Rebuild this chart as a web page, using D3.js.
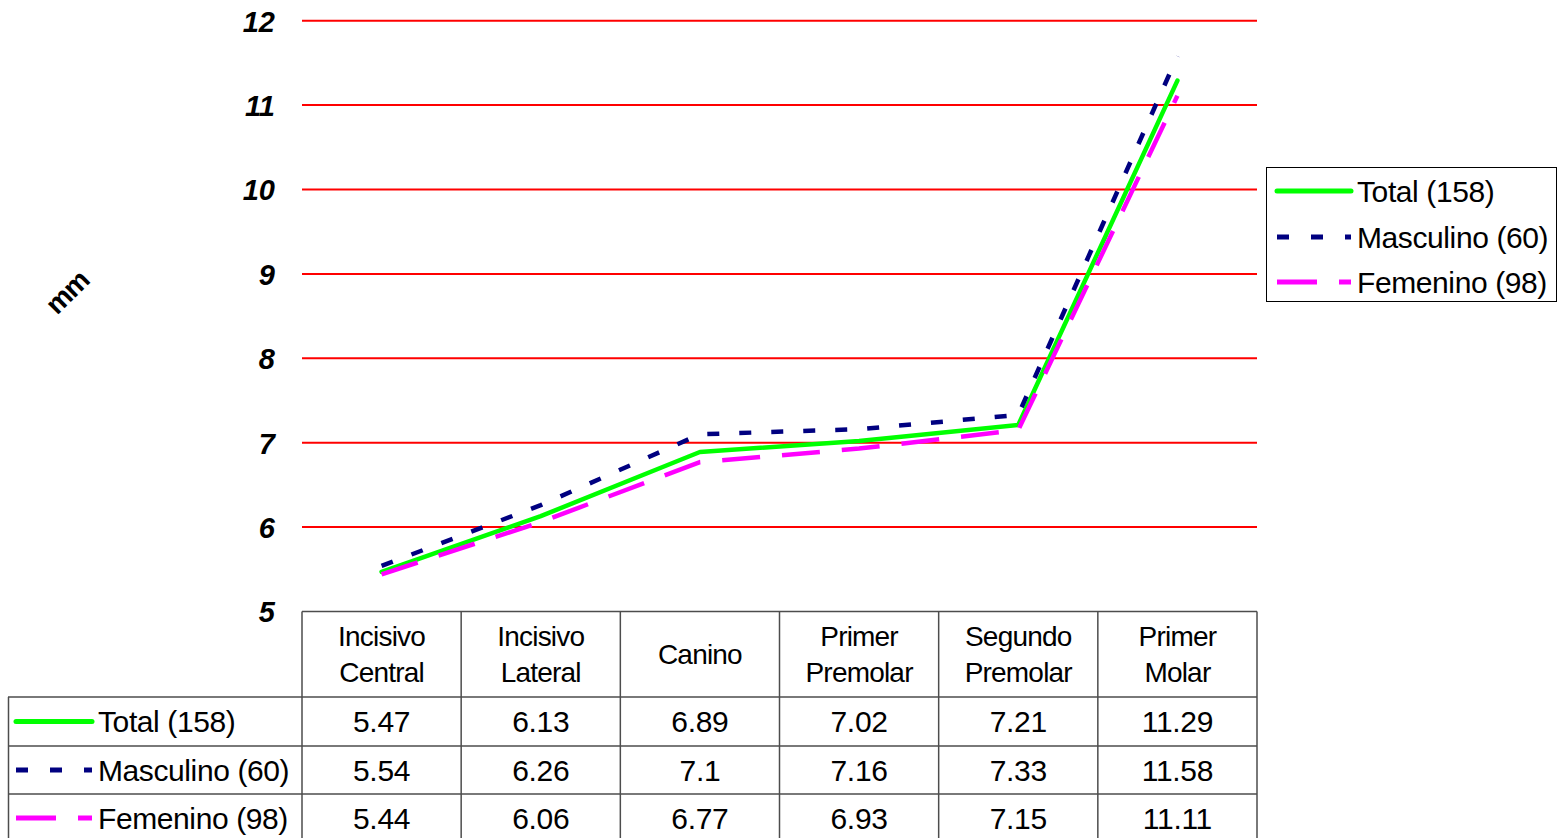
<!DOCTYPE html>
<html>
<head>
<meta charset="utf-8">
<script src="https://cdn.jsdelivr.net/npm/d3@7"></script>
<style>
  html, body { margin: 0; padding: 0; background: #fff; }
  svg { display: block; }
  text { font-family: "Liberation Sans", Arial, sans-serif; fill: #000; }
</style>
</head>
<body>
<svg id="chart" width="1564" height="838"></svg>
<script>
// Tooth types (header lines of the data table)
const categories = ["Incisivo Central", "Incisivo Lateral", "Canino", "Primer Premolar", "Segundo Premolar", "Primer Molar"];
const categoryLines = [["Incisivo", "Central"], ["Incisivo", "Lateral"], ["Canino"], ["Primer", "Premolar"], ["Segundo", "Premolar"], ["Primer", "Molar"]];

// Mean width in mm for each group
const totalValues     = [5.47, 6.13, 6.89, 7.02, 7.21, 11.29];
const masculinoValues = [5.54, 6.26, 7.1, 7.16, 7.33, 11.58];
const femeninoValues  = [5.44, 6.06, 6.77, 6.93, 7.15, 11.11];

const seriesNames = ["Total (158)", "Masculino (60)", "Femenino (98)"];
const yTicks = [5, 6, 7, 8, 9, 10, 11, 12];

const series = [
  { name: seriesNames[0], values: totalValues,     color: "#00ff00", dash: null,    legendDash: null,    cap: "round" },
  { name: seriesNames[1], values: masculinoValues, color: "#000080", dash: "12,20", legendDash: "12,22", cap: "butt" },
  { name: seriesNames[2], values: femeninoValues,  color: "#ff00ff", dash: "38,22", legendDash: "40,22", cap: "butt" }
];

const svg = d3.select("#chart");

const plotLeft = 302, plotRight = 1257, plotTop = 20.7, plotBottom = 611.5;

const x = d3.scaleBand().domain(categories).range([plotLeft, plotRight]).padding(0);
const y = d3.scaleLinear().domain([5, 12]).range([plotBottom, plotTop]);

// Horizontal grid lines
svg.append("g")
  .selectAll("line")
  .data(yTicks.filter(t => t > 5))
  .join("line")
  .attr("x1", plotLeft).attr("x2", plotRight)
  .attr("y1", d => y(d)).attr("y2", d => y(d))
  .attr("stroke", "#ff0000").attr("stroke-width", 2);

// Value axis
const yAxis = svg.append("g")
  .attr("transform", `translate(${plotLeft},0)`)
  .call(d3.axisLeft(y).tickValues(yTicks).tickSize(0).tickPadding(27).tickFormat(d3.format("d")));
yAxis.select(".domain").remove();
yAxis.selectAll("text")
  .attr("font-family", "'Liberation Sans', Arial, sans-serif")
  .attr("font-size", 29)
  .attr("font-weight", "bold")
  .attr("font-style", "italic")
  .attr("dy", "0.36em")
  .attr("fill", "#000");

// Axis title
svg.append("text")
  .attr("transform", "translate(67,292) rotate(-45)")
  .attr("text-anchor", "middle")
  .attr("dy", "0.35em")
  .attr("font-size", 28)
  .attr("font-weight", "bold")
  .attr("letter-spacing", "-1")
  .text("mm");

// Series lines
const line = d3.line()
  .x((d, i) => x(categories[i]) + x.bandwidth() / 2)
  .y(d => y(d));

series.forEach(s => {
  svg.append("path")
    .datum(s.values)
    .attr("d", line)
    .attr("fill", "none")
    .attr("stroke", s.color)
    .attr("stroke-width", 4.5)
    .attr("stroke-linejoin", "round")
    .attr("stroke-linecap", s.cap)
    .attr("stroke-dasharray", s.dash);
});

// Legend box
const legend = svg.append("g");
legend.append("rect")
  .attr("x", 1266.5).attr("y", 167.5).attr("width", 290).attr("height", 134)
  .attr("fill", "#fff").attr("stroke", "#000").attr("stroke-width", 1);
const legendY = [191, 237, 282];
series.forEach((s, i) => {
  legend.append("line")
    .attr("x1", 1277).attr("x2", 1351)
    .attr("y1", legendY[i]).attr("y2", legendY[i])
    .attr("stroke", s.color).attr("stroke-width", 5)
    .attr("stroke-linecap", s.cap)
    .attr("stroke-dasharray", s.legendDash);
  legend.append("text")
    .attr("x", 1357).attr("y", legendY[i])
    .attr("dy", "0.36em")
    .attr("font-size", 30)
    .attr("letter-spacing", "-0.4")
    .text(s.name);
});

// Data table below the plot
const table = svg.append("g");
const gridColor = "#4d4d4d";
const rowLines = [611.5, 697, 746, 794];
const tableBottom = 845;
const colEdges = categories.map(c => x(c)).concat([plotRight]);

// header top line
table.append("line")
  .attr("x1", plotLeft).attr("x2", plotRight)
  .attr("y1", rowLines[0]).attr("y2", rowLines[0])
  .attr("stroke", gridColor).attr("stroke-width", 1.5);
// row separators across the label column
rowLines.slice(1).forEach(ry => {
  table.append("line")
    .attr("x1", 8).attr("x2", plotRight)
    .attr("y1", ry).attr("y2", ry)
    .attr("stroke", gridColor).attr("stroke-width", 1.5);
});
// column separators
colEdges.forEach(cx => {
  table.append("line")
    .attr("x1", cx).attr("x2", cx)
    .attr("y1", rowLines[0]).attr("y2", tableBottom)
    .attr("stroke", gridColor).attr("stroke-width", 1.5);
});
table.append("line")
  .attr("x1", 8.5).attr("x2", 8.5)
  .attr("y1", rowLines[1]).attr("y2", tableBottom)
  .attr("stroke", gridColor).attr("stroke-width", 1.5);

// header labels
categories.forEach((c, i) => {
  const lines = categoryLines[i];
  const cx = x(c) + x.bandwidth() / 2;
  const ys = lines.length === 2 ? [636, 672] : [654];
  lines.forEach((t, j) => {
    table.append("text")
      .attr("x", cx).attr("y", ys[j])
      .attr("dy", "0.36em")
      .attr("text-anchor", "middle")
      .attr("font-size", 28)
      .attr("letter-spacing", "-0.8")
      .text(t);
  });
});

// data rows
const rowCenters = [721.5, 770, 818];
series.forEach((s, i) => {
  const cy = rowCenters[i];
  table.append("line")
    .attr("x1", 16).attr("x2", 92)
    .attr("y1", cy).attr("y2", cy)
    .attr("stroke", s.color).attr("stroke-width", 5)
    .attr("stroke-linecap", s.cap)
    .attr("stroke-dasharray", s.legendDash);
  table.append("text")
    .attr("x", 98).attr("y", cy)
    .attr("dy", "0.36em")
    .attr("font-size", 30)
    .attr("letter-spacing", "-0.4")
    .text(s.name);
  s.values.forEach((v, j) => {
    table.append("text")
      .attr("x", x(categories[j]) + x.bandwidth() / 2)
      .attr("y", cy)
      .attr("dy", "0.36em")
      .attr("text-anchor", "middle")
      .attr("font-size", 30)
      .attr("letter-spacing", "-0.3")
      .text(String(v));
  });
});
</script>
</body>
</html>
